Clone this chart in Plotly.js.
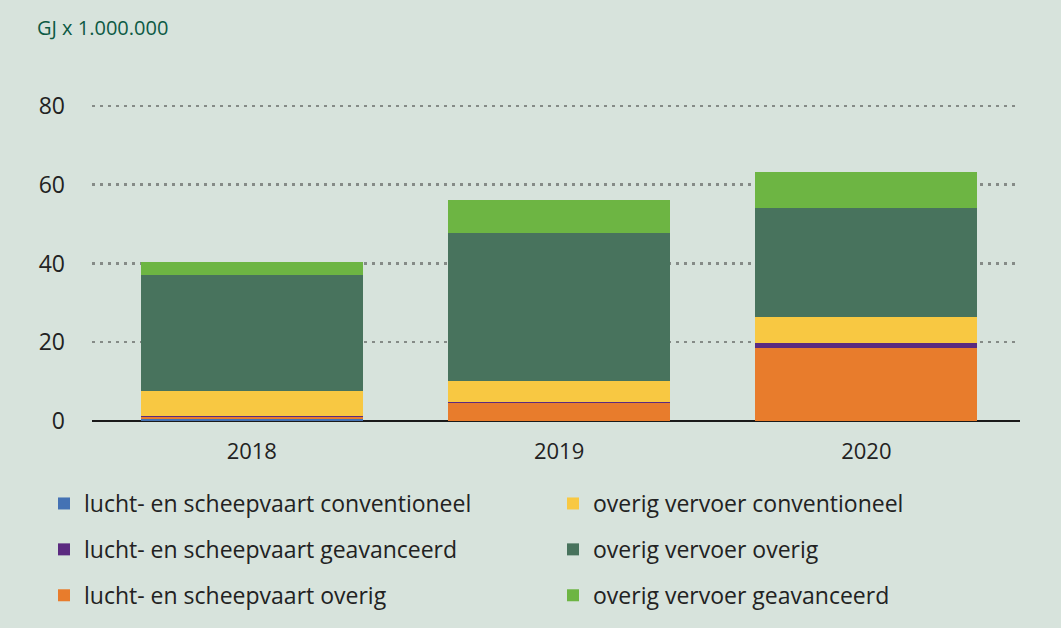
<!DOCTYPE html>
<html>
<head>
<meta charset="utf-8">
<script src="https://cdn.plot.ly/plotly-3.0.1.min.js"></script>
<style>html,body{margin:0;padding:0;background:#d7e3dc;}#chart{width:1061px;height:628px;}</style>
</head>
<body>
<div id="chart"></div>
<script>
const years = ['2018', '2019', '2020'];
const luchtConventioneel = [0.5, 0.0, 0.0];
const luchtOverig = [0.4, 4.5, 18.6];
const luchtGeavanceerd = [0.3, 0.2, 1.1];
const overigConventioneel = [6.4, 5.4, 6.6];
const overigOverig = [29.4, 37.7, 27.9];
const overigGeavanceerd = [3.5, 8.4, 9.1];
const seriesNames = [
  'lucht- en scheepvaart conventioneel',
  'lucht- en scheepvaart overig',
  'lucht- en scheepvaart geavanceerd',
  'overig vervoer conventioneel',
  'overig vervoer overig',
  'overig vervoer geavanceerd'
];
const seriesValues = [luchtConventioneel, luchtOverig, luchtGeavanceerd, overigConventioneel, overigOverig, overigGeavanceerd];
const colors = ['#4472b4', '#e87c2c', '#5b2a80', '#f8c842', '#48735d', '#6db543'];
const legendIds = ['legend', 'legend', 'legend', 'legend2', 'legend2', 'legend2'];
const ranks = [1, 3, 2, 4, 5, 6];
const yTicks = [0, 20, 40, 60, 80];
const unitLabel = 'GJ x 1.000.000';

const traces = seriesNames.map((n, i) => ({
  type: 'bar',
  name: n,
  x: years,
  y: seriesValues[i],
  marker: {color: colors[i], line: {width: 0}},
  legend: legendIds[i],
  legendgroup: 'g' + i,
  legendrank: ranks[i],
  hoverinfo: 'x+y+name'
}));

const fam = '"Open Sans", "Noto Sans", sans-serif';
const legendFont = {family: fam, size: 23, color: '#222'};
const layout = {
  width: 1061, height: 628,
  paper_bgcolor: '#d7e3dc',
  plot_bgcolor: '#d7e3dc',
  margin: {l: 30, r: 41, t: 102, b: 4},
  barmode: 'stack',
  bargap: 0.278,
  font: {family: fam, color: '#222'},
  xaxis: {
    type: 'category',
    domain: [0.06263, 1],
    range: [-0.52, 2.5],
    showgrid: false,
    zeroline: false,
    showline: false,
    ticks: '',
    tickangle: 0,
    tickfont: {size: 22, color: '#222'},
    ticklabelstandoff: 15
  },
  yaxis: {
    domain: [0.3889, 1],
    range: [0, 81],
    tickvals: yTicks,
    showgrid: true,
    gridcolor: '#858b87',
    griddash: '3px,5px',
    gridwidth: 2.5,
    zeroline: true,
    zerolinecolor: '#1a1a1a',
    zerolinewidth: 2.5,
    ticks: '',
    tickfont: {size: 23, color: '#222'},
    ticklabelstandoff: 26
  },
  legend: {
    x: 0.01414, xanchor: 'left', y: 0.272, yanchor: 'top',
    orientation: 'v', traceorder: 'grouped', tracegroupgap: 13,
    font: legendFont, bgcolor: 'rgba(0,0,0,0)', itemwidth: 30
  },
  legend2: {
    x: 0.5283, xanchor: 'left', y: 0.272, yanchor: 'top',
    orientation: 'v', traceorder: 'grouped', tracegroupgap: 13,
    font: legendFont, bgcolor: 'rgba(0,0,0,0)', itemwidth: 30
  },
  annotations: [{
    text: unitLabel, xref: 'paper', yref: 'paper',
    x: 0.005, y: 1.1418, xanchor: 'left', yanchor: 'middle',
    showarrow: false,
    font: {size: 20, color: '#0d5a44', family: fam}
  }],
  showlegend: true
};

Plotly.newPlot('chart', traces, layout, {displayModeBar: false, staticPlot: true});
</script>
</body>
</html>
